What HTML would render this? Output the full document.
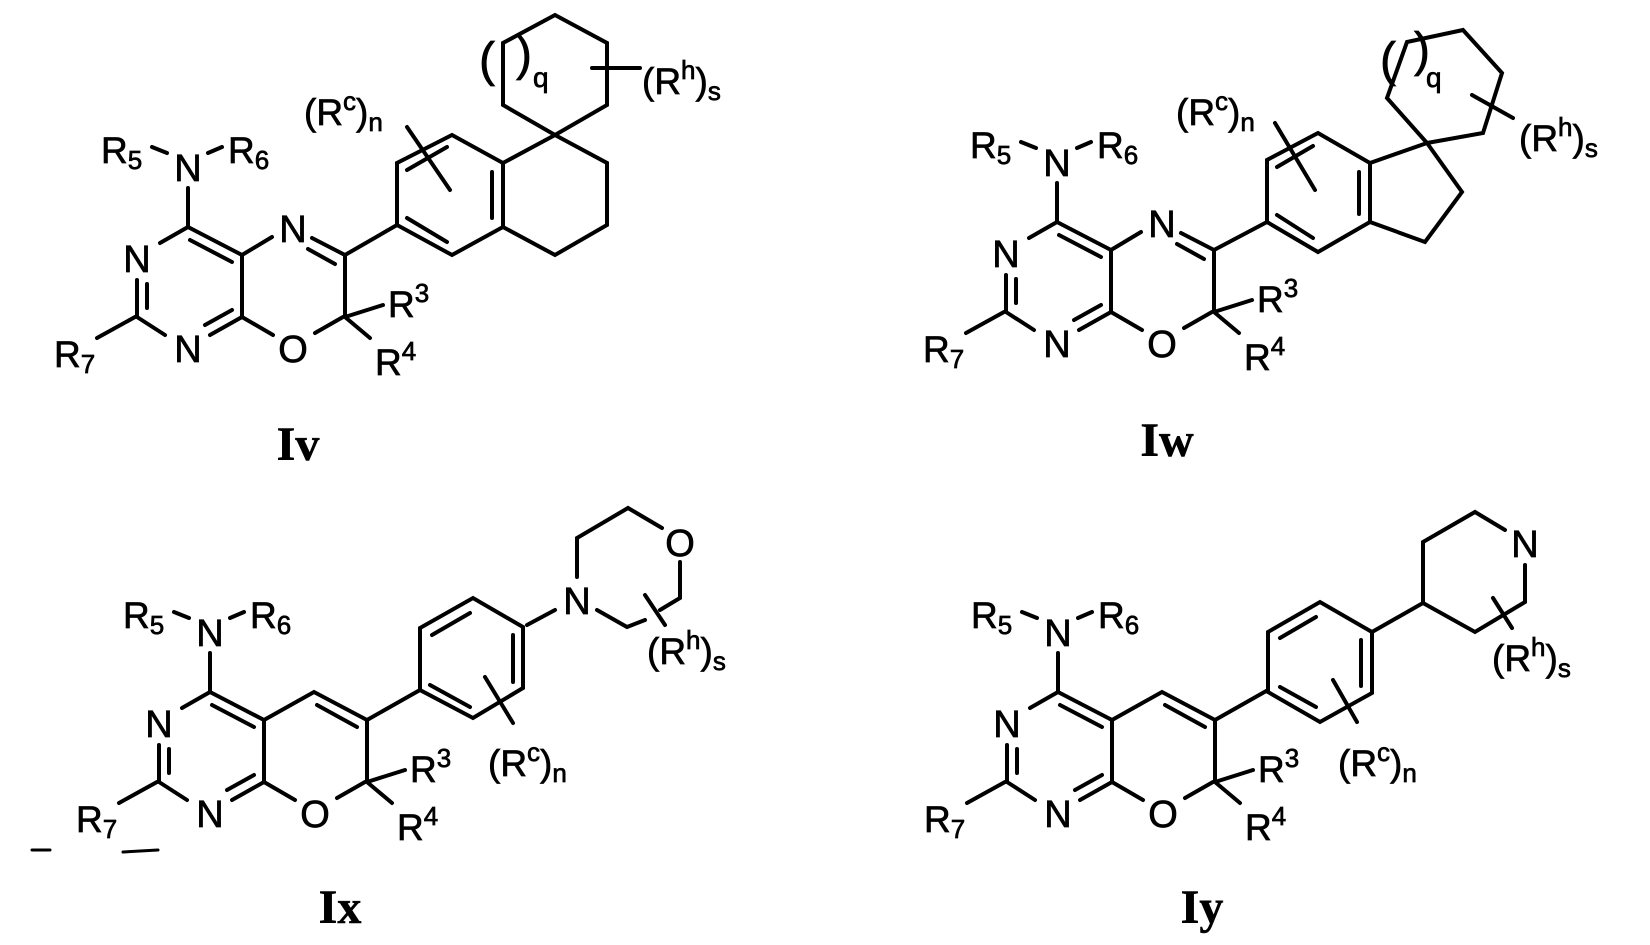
<!DOCTYPE html>
<html><head><meta charset="utf-8"><style>
html,body{margin:0;padding:0;background:#fff}
svg{display:block}
text{font-family:"Liberation Sans",Arial,sans-serif;fill:#000;stroke:#000;stroke-width:0.7}
.a{font-size:38px;text-anchor:middle}
.r{font-size:37px}
.s{font-size:26px}
.lb{font-family:"Liberation Serif",serif;font-weight:bold;font-size:48px;text-anchor:middle;stroke-width:0.5}
path{stroke:#000;stroke-width:4;fill:none;stroke-linecap:round}
</style></head><body>
<svg width="1650" height="945" viewBox="0 0 1650 945" xmlns="http://www.w3.org/2000/svg">

<!-- ===== Iv ===== -->
<g>
<path d="M188,188L188,227M152,147L167,153M208,153L222,147M188,227L160,243M188,227L242,255M190,240L232,262M242,255L242,317M242,317L210,335M205,325L232,310M165,335L137,317M137,317L137,280M147,308L147,284M135,317L97,338"/>
<path d="M242,255L272,237M312,238L345,255M308,249L335,264M345,255L345,317M343,317L315,333M273,335L242,317M345,317L383,305M345,317L370,338M345,255L397,225"/>
<text class="r" x="101" y="163">R<tspan class="s" dy="6">5</tspan></text>
<text class="r" x="228" y="163">R<tspan class="s" dy="6">6</tspan></text>
<text class="a" x="188" y="181">N</text>
<text class="a" x="137" y="272">N</text>
<text class="a" x="188" y="362">N</text>
<text class="r" x="54" y="367">R<tspan class="s" dy="6">7</tspan></text>
<text class="a" x="293" y="242">N</text>
<text class="a" x="293" y="362">O</text>
<text class="r" x="388" y="317">R<tspan class="s" dy="-15">3</tspan></text>
<text class="r" x="375" y="375">R<tspan class="s" dy="-15">4</tspan></text>
</g>
<path d="M397,225L397,163L452,135L503,163L503,227L452,255Z M407,170L447,147M492,172L492,218M407,218L447,242"/>
<path d="M503,163L555,135L607,163L607,225L555,255L503,227M555,135L503,105L503,43L555,15L607,43L607,105L555,135"/>
<text x="479" y="76" style="font-size:48px">(</text>
<text x="516" y="70" style="font-size:48px">)</text>
<text x="533" y="87" style="font-size:28px">q</text>
<path d="M592,68L640,68"/>
<text class="r" x="642" y="94">(R<tspan class="s" dy="-15">h</tspan><tspan dy="15">)</tspan><tspan class="s" dy="6">s</tspan></text>
<text class="r" x="304" y="125">(R<tspan class="s" dy="-15">c</tspan><tspan dy="15">)</tspan><tspan class="s" dy="6">n</tspan></text>
<path d="M407,127L450,190"/>
<text class="lb" x="298" y="460">Iv</text>

<!-- ===== Iw ===== -->
<g transform="translate(869,-5)">
<path d="M188,188L188,227M152,147L167,153M208,153L222,147M188,227L160,243M188,227L242,255M190,240L232,262M242,255L242,317M242,317L210,335M205,325L232,310M165,335L137,317M137,317L137,280M147,308L147,284M135,317L97,338"/>
<path d="M242,255L272,237M312,238L345,255M308,249L335,264M345,255L345,317M343,317L315,333M273,335L242,317M345,317L383,305M345,317L370,338M345,255L398,227"/>
<text class="r" x="101" y="163">R<tspan class="s" dy="6">5</tspan></text>
<text class="r" x="228" y="163">R<tspan class="s" dy="6">6</tspan></text>
<text class="a" x="188" y="181">N</text>
<text class="a" x="137" y="272">N</text>
<text class="a" x="188" y="362">N</text>
<text class="r" x="54" y="367">R<tspan class="s" dy="6">7</tspan></text>
<text class="a" x="293" y="242">N</text>
<text class="a" x="293" y="362">O</text>
<text class="r" x="388" y="317">R<tspan class="s" dy="-15">3</tspan></text>
<text class="r" x="375" y="375">R<tspan class="s" dy="-15">4</tspan></text>
</g>
<path d="M1267,222L1267,160L1318,133L1370,163L1370,222L1318,252Z M1277,167L1313,146M1359,172L1359,214M1277,215L1313,238"/>
<path d="M1370,163L1427,143L1462,192L1425,242L1370,222M1427,143L1387,98L1407,42L1463,30L1502,73L1483,133L1427,143"/>
<text x="1380" y="76" style="font-size:48px">(</text>
<text x="1414" y="66" style="font-size:48px">)</text>
<text x="1426" y="87" style="font-size:28px">q</text>
<path d="M1472,95L1513,118"/>
<text class="r" x="1519" y="151">(R<tspan class="s" dy="-15">h</tspan><tspan dy="15">)</tspan><tspan class="s" dy="6">s</tspan></text>
<text class="r" x="1176" y="125">(R<tspan class="s" dy="-15">c</tspan><tspan dy="15">)</tspan><tspan class="s" dy="6">n</tspan></text>
<path d="M1275,123L1315,190"/>
<text class="lb" x="1167" y="456">Iw</text>

<!-- ===== Ix ===== -->
<g transform="translate(22,465)">
<path d="M188,188L188,227M152,147L167,153M208,153L222,147M188,227L160,243M188,227L242,255M190,240L232,262M242,255L242,317M242,317L210,335M205,325L232,310M165,335L137,317M137,317L137,280M147,308L147,284M135,317L97,338"/>
<path d="M242,255L292,227L345,255M295,240L335,262M345,255L345,317M343,317L315,333M273,335L242,317M345,317L383,305M345,317L370,338M345,255L398,225"/>
<text class="r" x="101" y="163">R<tspan class="s" dy="6">5</tspan></text>
<text class="r" x="228" y="163">R<tspan class="s" dy="6">6</tspan></text>
<text class="a" x="188" y="181">N</text>
<text class="a" x="137" y="272">N</text>
<text class="a" x="188" y="362">N</text>
<text class="r" x="54" y="367">R<tspan class="s" dy="6">7</tspan></text>
<text class="a" x="293" y="362">O</text>
<text class="r" x="388" y="317">R<tspan class="s" dy="-15">3</tspan></text>
<text class="r" x="375" y="375">R<tspan class="s" dy="-15">4</tspan></text>
</g>
<path d="M420,690L420,628L473,598L523,627L523,688L473,718Z M432,635L470,613M513,635L513,682M430,685L470,707"/>
<path d="M527,625L555,610M577,577L577,538L628,508L662,528M680,562L680,598L660,610M645,620L627,627L597,610M645,595L665,625"/>
<text class="a" x="577" y="614">N</text>
<text class="a" x="680" y="556">O</text>
<text class="r" x="647" y="664">(R<tspan class="s" dy="-15">h</tspan><tspan dy="15">)</tspan><tspan class="s" dy="6">s</tspan></text>
<path d="M485,677L513,723"/>
<text class="r" x="488" y="776">(R<tspan class="s" dy="-15">c</tspan><tspan dy="15">)</tspan><tspan class="s" dy="6">n</tspan></text>
<path d="M32,850L50,850M123,852L158,850" style="stroke-width:3"/>
<text class="lb" x="340" y="923">Ix</text>

<!-- ===== Iy ===== -->
<g transform="translate(870,465)">
<path d="M188,188L188,227M152,147L167,153M208,153L222,147M188,227L160,243M188,227L242,255M190,240L232,262M242,255L242,317M242,317L210,335M205,325L232,310M165,335L137,317M137,317L137,280M147,308L147,284M135,317L97,338"/>
<path d="M242,255L292,227L345,255M295,240L335,262M345,255L345,317M343,317L315,333M273,335L242,317M345,317L383,305M345,317L370,338M345,255L398,225"/>
<text class="r" x="101" y="163">R<tspan class="s" dy="6">5</tspan></text>
<text class="r" x="228" y="163">R<tspan class="s" dy="6">6</tspan></text>
<text class="a" x="188" y="181">N</text>
<text class="a" x="137" y="272">N</text>
<text class="a" x="188" y="362">N</text>
<text class="r" x="54" y="367">R<tspan class="s" dy="6">7</tspan></text>
<text class="a" x="293" y="362">O</text>
<text class="r" x="388" y="317">R<tspan class="s" dy="-15">3</tspan></text>
<text class="r" x="375" y="375">R<tspan class="s" dy="-15">4</tspan></text>
</g>
<path d="M1268,692L1268,632L1320,602L1372,632L1372,693L1320,722Z M1280,638L1316,617M1361,640L1361,686M1280,687L1316,707"/>
<path d="M1372,632L1423,603L1423,542L1475,512L1505,530M1525,565L1525,602L1475,632L1423,603M1493,598L1512,628"/>
<text class="a" x="1525" y="557">N</text>
<text class="r" x="1492" y="671">(R<tspan class="s" dy="-15">h</tspan><tspan dy="15">)</tspan><tspan class="s" dy="6">s</tspan></text>
<path d="M1333,680L1357,722"/>
<text class="r" x="1338" y="776">(R<tspan class="s" dy="-15">c</tspan><tspan dy="15">)</tspan><tspan class="s" dy="6">n</tspan></text>
<text class="lb" x="1202" y="923">Iy</text>
</svg>
</body></html>
